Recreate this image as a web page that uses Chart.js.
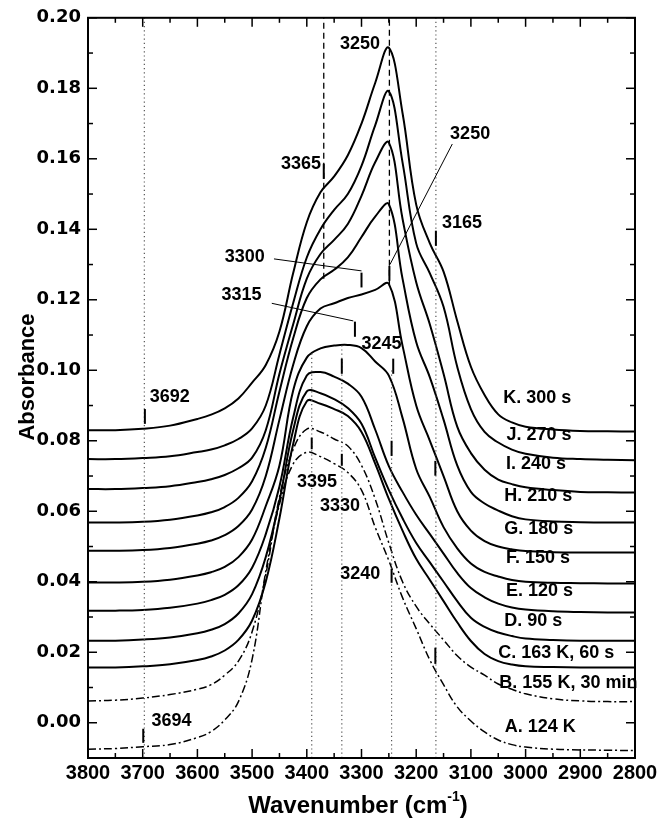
<!DOCTYPE html>
<html>
<head>
<meta charset="utf-8">
<script src="https://cdn.jsdelivr.net/npm/chart.js@4.4.1/dist/chart.umd.min.js"></script>
<style>
  html, body { margin: 0; padding: 0; background: #fff; }
  #wrap { width: 665px; height: 826px; }
</style>
</head>
<body>
<div id="wrap"><canvas id="c"></canvas></div>
<script>
// wavenumber grid (cm-1), shared by every spectrum
const wavenumbers = [3800, 3750, 3700, 3650, 3600, 3575, 3550, 3525, 3500, 3475, 3450, 3425, 3400, 3375, 3350, 3325, 3300, 3275, 3250, 3225, 3200, 3175, 3150, 3125, 3100, 3075, 3050, 3025, 3000, 2950, 2900, 2850, 2800];

const specA = [-0.0075, -0.0073, -0.0068, -0.0062, -0.0042, -0.0025, 0.0008, 0.0060, 0.0180, 0.0430, 0.0620, 0.0734, 0.0767, 0.0755, 0.0735, 0.0710, 0.0660, 0.0555, 0.0460, 0.0355, 0.0267, 0.0178, 0.0108, 0.0045, 0.0005, -0.0026, -0.0049, -0.0062, -0.0069, -0.0075, -0.0077, -0.0078, -0.0079];
const specB = [0.0062, 0.0064, 0.0070, 0.0080, 0.0095, 0.0108, 0.0135, 0.0175, 0.0258, 0.0420, 0.0640, 0.0775, 0.0833, 0.0825, 0.0805, 0.0785, 0.0730, 0.0635, 0.0510, 0.0400, 0.0330, 0.0280, 0.0235, 0.0190, 0.0158, 0.0135, 0.0110, 0.0095, 0.0082, 0.0068, 0.0062, 0.0060, 0.0060];
const specC = [0.0157, 0.0157, 0.0160, 0.0166, 0.0178, 0.0188, 0.0205, 0.0235, 0.0290, 0.0400, 0.0580, 0.0790, 0.0912, 0.0905, 0.0890, 0.0870, 0.0825, 0.0735, 0.0635, 0.0545, 0.0465, 0.0405, 0.0345, 0.0285, 0.0232, 0.0195, 0.0175, 0.0165, 0.0160, 0.0158, 0.0157, 0.0157, 0.0157];
const specD = [0.0233, 0.0233, 0.0236, 0.0242, 0.0254, 0.0264, 0.0280, 0.0310, 0.0365, 0.0470, 0.0630, 0.0830, 0.0940, 0.0935, 0.0918, 0.0893, 0.0848, 0.0752, 0.0660, 0.0580, 0.0510, 0.0455, 0.0400, 0.0345, 0.0298, 0.0272, 0.0256, 0.0246, 0.0239, 0.0235, 0.0233, 0.0233, 0.0233];
const specE = [0.0318, 0.0318, 0.0320, 0.0326, 0.0338, 0.0348, 0.0363, 0.0390, 0.0440, 0.0535, 0.0670, 0.0865, 0.0985, 0.0995, 0.0982, 0.0962, 0.0925, 0.0832, 0.0728, 0.0655, 0.0590, 0.0535, 0.0480, 0.0425, 0.0382, 0.0356, 0.0338, 0.0327, 0.0321, 0.0316, 0.0314, 0.0313, 0.0313];
const specF = [0.0398, 0.0398, 0.0400, 0.0406, 0.0418, 0.0427, 0.0442, 0.0470, 0.0520, 0.0615, 0.0730, 0.0942, 0.1036, 0.1062, 0.1070, 0.1072, 0.1063, 0.1025, 0.0985, 0.0865, 0.0720, 0.0640, 0.0555, 0.0495, 0.0452, 0.0428, 0.0415, 0.0405, 0.0400, 0.0397, 0.0396, 0.0395, 0.0395];
const specG = [0.0488, 0.0488, 0.0490, 0.0496, 0.0508, 0.0517, 0.0532, 0.0558, 0.0605, 0.0700, 0.0860, 0.1015, 0.1125, 0.1175, 0.1190, 0.1205, 0.1215, 0.1228, 0.1245, 0.1070, 0.0900, 0.0800, 0.0700, 0.0600, 0.0545, 0.0515, 0.0500, 0.0492, 0.0487, 0.0484, 0.0483, 0.0483, 0.0483];
const specH = [0.0568, 0.0568, 0.0570, 0.0576, 0.0588, 0.0597, 0.0612, 0.0638, 0.0685, 0.0780, 0.0940, 0.1090, 0.1205, 0.1258, 0.1285, 0.1320, 0.1378, 0.1436, 0.1471, 0.1260, 0.1080, 0.0980, 0.0860, 0.0730, 0.0655, 0.0622, 0.0602, 0.0586, 0.0577, 0.0571, 0.0569, 0.0568, 0.0568];
const specI = [0.0663, 0.0663, 0.0666, 0.0671, 0.0683, 0.0691, 0.0703, 0.0722, 0.0752, 0.0830, 0.0990, 0.1130, 0.1260, 0.1330, 0.1370, 0.1415, 0.1495, 0.1590, 0.1646, 0.1430, 0.1250, 0.1130, 0.0990, 0.0840, 0.0765, 0.0718, 0.0690, 0.0677, 0.0668, 0.0660, 0.0655, 0.0654, 0.0653];
const specJ = [0.0748, 0.0748, 0.0751, 0.0756, 0.0768, 0.0775, 0.0787, 0.0805, 0.0835, 0.0900, 0.1045, 0.1190, 0.1320, 0.1400, 0.1455, 0.1500, 0.1580, 0.1695, 0.1791, 0.1590, 0.1360, 0.1275, 0.1180, 0.1010, 0.0890, 0.0825, 0.0795, 0.0775, 0.0763, 0.0752, 0.0748, 0.0746, 0.0745];
const specK = [0.0830, 0.0830, 0.0834, 0.0843, 0.0862, 0.0874, 0.0892, 0.0920, 0.0965, 0.1015, 0.1110, 0.1275, 0.1420, 0.1505, 0.1550, 0.1610, 0.1700, 0.1815, 0.1915, 0.1730, 0.1470, 0.1360, 0.1280, 0.1140, 0.1010, 0.0930, 0.0875, 0.0852, 0.0840, 0.0832, 0.0828, 0.0827, 0.0826];

const spectra = [specA, specB, specC, specD, specE, specF, specG, specH, specI, specJ, specK];
const dashDot = [true, true, false, false, false, false, false, false, false, false, false];

// curve labels: text, left edge (cm-1), centre (absorbance)
const curveLabels = ['A. 124 K', 'B. 155 K, 30 min', 'C. 163 K, 60 s', 'D. 90 s', 'E. 120 s', 'F. 150 s', 'G. 180 s', 'H. 210 s', 'I. 240 s', 'J. 270 s', 'K. 300 s'];
const labelWn = [3038, 3048, 3050, 3039, 3036, 3036, 3039, 3039, 3036, 3035, 3041];
const labelAbs = [-0.0013, 0.0114, 0.0199, 0.0289, 0.0373, 0.0467, 0.0550, 0.0644, 0.0734, 0.0817, 0.0922];

// vertical guide lines: wavenumber, from, to, style
const guideWn = [3697, 3164, 3391, 3336, 3245, 3369, 3249];
const guideFrom = [-0.01, -0.01, -0.01, -0.01, -0.01, 0.126, 0.124];
const guideTo = [0.20, 0.20, 0.105, 0.107, 0.100, 0.20, 0.20];
const guideDashed = [false, false, false, false, false, true, true];

// peak marks (short bars): wavenumber, bottom, top
const markWn = [3696, 3699, 3369, 3249, 3164, 3300, 3312, 3336, 3242, 3391, 3336, 3245, 3165, 3245, 3165];
const markLo = [0.0848, -0.0057, 0.1543, 0.1254, 0.1353, 0.1235, 0.1095, 0.0990, 0.0990, 0.0776, 0.0729, 0.0757, 0.0701, 0.0397, 0.0167];
const markHi = [0.0890, -0.0017, 0.1586, 0.1296, 0.1396, 0.1277, 0.1138, 0.1033, 0.1033, 0.0809, 0.0763, 0.0800, 0.0743, 0.0437, 0.0213];

// peak labels: text, anchor wavenumber, absorbance, alignment
const peakText = ['3692', '3694', '3365', '3250', '3250', '3165', '3300', '3315', '3245', '3395', '3330', '3240'];
const peakWn = [3687, 3684, 3374, 3266, 3138, 3153, 3550, 3556, 3300, 3418, 3376, 3339];
const peakAbs = [0.0923, 0.0006, 0.1585, 0.1925, 0.1670, 0.1419, 0.1320, 0.1214, 0.1074, 0.0682, 0.0616, 0.0423];
const peakAlign = ['left', 'left', 'right', 'right', 'left', 'left', 'left', 'left', 'left', 'left', 'left', 'left'];

// leader lines from labels to marks
const leaderFrom = [[3134, 0.1642], [3460, 0.1316], [3464, 0.1190]];
const leaderTo = [[3248, 0.1300], [3300, 0.1282], [3315, 0.1140]];

const yTickValues = [0, 0.02, 0.04, 0.06, 0.08, 0.10, 0.12, 0.14, 0.16, 0.18, 0.20];

const datasets = [];
guideWn.forEach((w, i) => {
  datasets.push({
    data: [{x: w, y: guideFrom[i]}, {x: w, y: guideTo[i]}],
    borderColor: guideDashed[i] ? '#000' : '#555',
    borderWidth: guideDashed[i] ? 1.3 : 1.2,
    borderDash: guideDashed[i] ? [6, 4] : [1.2, 3],
    pointRadius: 0,
    tension: 0,
    fill: false
  });
});
spectra.forEach((s, i) => {
  datasets.push({
    data: wavenumbers.map((w, j) => ({x: w, y: s[j]})),
    borderColor: '#000',
    borderWidth: dashDot[i] ? 1.5 : 2,
    borderDash: dashDot[i] ? [8, 3, 2, 3] : [],
    tension: 0.4,
    pointRadius: 0,
    fill: false
  });
});

const decor = {
  id: 'decor',
  afterDatasetsDraw(chart) {
    const {ctx, chartArea: a, scales: {x, y}} = chart;
    const seg = (x1, y1, x2, y2) => { ctx.beginPath(); ctx.moveTo(x1, y1); ctx.lineTo(x2, y2); ctx.stroke(); };
    ctx.save();
    ctx.strokeStyle = '#000';
    ctx.setLineDash([]);

    // tick marks, inside on all four sides
    ctx.lineWidth = 1.5;
    for (let w = 2800; w <= 3800; w += 50) {
      const px = x.getPixelForValue(w);
      const len = w % 100 === 0 ? 9 : 5;
      seg(px, a.bottom, px, a.bottom - len);
      seg(px, a.top, px, a.top + len);
    }
    for (let k = -1; k <= 20; k++) {
      const py = y.getPixelForValue(k / 100);
      const len = k % 2 === 0 ? 9 : 5;
      seg(a.left, py, a.left + len, py);
      seg(a.right, py, a.right - len, py);
    }
    ctx.lineWidth = 2;
    ctx.strokeRect(a.left, a.top, a.right - a.left, a.bottom - a.top);

    // leaders
    ctx.lineWidth = 1;
    leaderFrom.forEach((p, i) => {
      const q = leaderTo[i];
      seg(x.getPixelForValue(p[0]), y.getPixelForValue(p[1]), x.getPixelForValue(q[0]), y.getPixelForValue(q[1]));
    });
    // marks
    ctx.lineWidth = 2;
    markWn.forEach((w, i) => {
      const px = x.getPixelForValue(w);
      seg(px, y.getPixelForValue(markLo[i]), px, y.getPixelForValue(markHi[i]));
    });

    ctx.fillStyle = '#000';
    ctx.textBaseline = 'middle';
    ctx.font = 'bold 18px "Liberation Sans", Arial, sans-serif';
    peakText.forEach((t, i) => {
      ctx.textAlign = peakAlign[i];
      ctx.fillText(t, x.getPixelForValue(peakWn[i]), y.getPixelForValue(peakAbs[i]));
    });
    ctx.textAlign = 'left';
    curveLabels.forEach((t, i) => {
      ctx.fillText(t, x.getPixelForValue(labelWn[i]), y.getPixelForValue(labelAbs[i]));
    });

    // axis titles
    ctx.font = 'bold 22px "Liberation Sans Narrow", "Arial Narrow", sans-serif';
    ctx.save();
    ctx.translate(28, 377);
    ctx.rotate(-Math.PI / 2);
    ctx.textAlign = 'center';
    ctx.fillText('Absorbance', 0, 0);
    ctx.restore();

    const main = 'Wavenumber (cm';
    ctx.font = 'bold 24px "Liberation Sans", Arial, sans-serif';
    const w1 = ctx.measureText(main).width;
    const w3 = ctx.measureText(')').width;
    ctx.font = 'bold 14px "Liberation Sans", Arial, sans-serif';
    const w2 = ctx.measureText('-1').width;
    let tx = 358 - (w1 + w2 + w3) / 2;
    ctx.textAlign = 'left';
    ctx.font = 'bold 24px "Liberation Sans", Arial, sans-serif';
    ctx.fillText(main, tx, 806);
    ctx.font = 'bold 14px "Liberation Sans", Arial, sans-serif';
    ctx.fillText('-1', tx + w1, 797);
    ctx.font = 'bold 24px "Liberation Sans", Arial, sans-serif';
    ctx.fillText(')', tx + w1 + w2, 806);
    ctx.restore();
  }
};

new Chart(document.getElementById('c'), {
  type: 'line',
  data: {datasets},
  options: {
    responsive: true,
    maintainAspectRatio: false,
    devicePixelRatio: 1,
    animation: false,
    events: [],
    layout: {padding: {top: 17, right: 30, bottom: 0, left: 0}},
    plugins: {legend: {display: false}, tooltip: {enabled: false}},
    scales: {
      x: {
        type: 'linear',
        min: 2800,
        max: 3800,
        reverse: true,
        grid: {display: false, drawTicks: false},
        border: {display: false},
        afterFit(s) { s.height = 68; },
        ticks: {
          stepSize: 100,
          padding: 3,
          color: '#000',
          maxRotation: 0,
          autoSkip: false,
          font: {family: '"Liberation Sans Narrow", "Arial Narrow", sans-serif', weight: 'bold', size: 20},
          callback: v => String(v)
        }
      },
      y: {
        type: 'linear',
        min: -0.01,
        max: 0.20,
        grid: {display: false, drawTicks: false},
        border: {display: false},
        afterFit(s) { s.width = 88; },
        afterBuildTicks(s) { s.ticks = yTickValues.map(v => ({value: v})); },
        ticks: {
          padding: 7,
          color: '#000',
          font: {family: '"DejaVu Sans", sans-serif', weight: 'bold', size: 18},
          callback: v => v.toFixed(2)
        }
      }
    }
  },
  plugins: [decor]
});
</script>
</body>
</html>
